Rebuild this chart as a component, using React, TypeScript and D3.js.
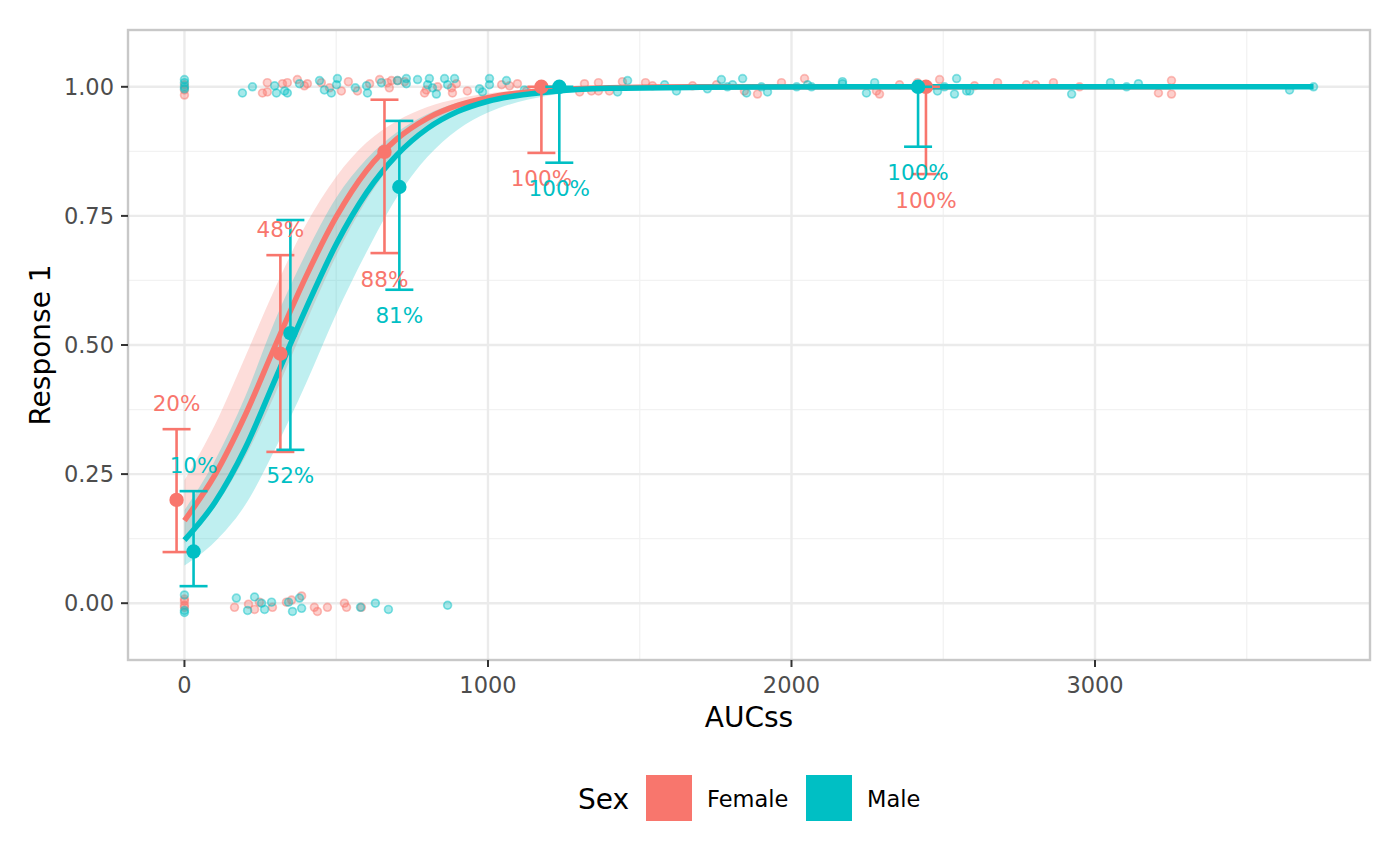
import React, { useEffect } from 'react';
import * as d3 from 'd3';

// axis ticks
const xTicks = [0, 1000, 2000, 3000];
const xMinor = [500, 1500, 2500, 3500];
const yTicks = [0, 0.25, 0.5, 0.75, 1];
const yMinor = [0.125, 0.375, 0.625, 0.875];
const yTickLabels = ['0.00', '0.25', '0.50', '0.75', '1.00'];

const sexes = ['Female', 'Male'];
const sexColors = ['#F8766D', '#00BFC4'];

// fitted logistic curve
const femaleFitAuc = [0, 100, 200, 300, 400, 500, 600, 700, 800, 900, 1000, 1200, 1400, 1700, 2200, 3250];
const femaleFit = [0.16, 0.248, 0.364, 0.5, 0.632, 0.748, 0.838, 0.899, 0.939, 0.964, 0.979, 0.993, 0.998, 1, 1, 1];
const femaleFitLo = [0.116, 0.186, 0.283, 0.407, 0.543, 0.673, 0.781, 0.861, 0.915, 0.949, 0.97, 0.99, 0.9966, 0.9993, 1, 1];
const femaleFitHi = [0.238, 0.345, 0.477, 0.612, 0.733, 0.826, 0.892, 0.934, 0.961, 0.977, 0.987, 0.996, 0.9985, 1, 1, 1];

const maleFitAuc = [0, 100, 200, 300, 400, 500, 600, 700, 800, 900, 1000, 1200, 1400, 1700, 2200, 3720];
const maleFit = [0.122, 0.195, 0.3, 0.435, 0.57, 0.695, 0.795, 0.868, 0.919, 0.952, 0.972, 0.99, 0.997, 0.999, 1, 1];
const maleFitLo = [0.073, 0.119, 0.19, 0.3, 0.425, 0.56, 0.68, 0.786, 0.864, 0.917, 0.95, 0.983, 0.994, 0.998, 0.9998, 1];
const maleFitHi = [0.18, 0.276, 0.4, 0.55, 0.677, 0.785, 0.86, 0.912, 0.947, 0.969, 0.982, 0.994, 0.998, 0.9997, 1, 1];

// binned observed response with 95% CI
const femaleBinAuc = [-26, 316, 659, 1176, 2443];
const femaleBinProb = [0.2, 0.483, 0.874, 1, 1];
const femaleBinLo = [0.099, 0.293, 0.678, 0.872, 0.831];
const femaleBinHi = [0.337, 0.674, 0.975, 1, 1];
const femaleBinLabels = ['20%', '48%', '88%', '100%', '100%'];
const femaleLabelAbove = [true, true, false, false, false];

const maleBinAuc = [30, 349, 708, 1235, 2417];
const maleBinProb = [0.1, 0.523, 0.806, 1, 1];
const maleBinLo = [0.033, 0.297, 0.607, 0.853, 0.884];
const maleBinHi = [0.217, 0.742, 0.934, 1, 1];
const maleBinLabels = ['10%', '52%', '81%', '100%', '100%'];
const maleLabelAbove = [true, false, false, false, false];

// individual observations (jittered vertically)
const femaleAuc = [
  0, 0, 0, 0, 0, 0, 0,
  257, 273, 273, 323, 339, 372, 395, 405, 451, 478, 517, 540, 570, 610, 643, 669, 675, 682, 702, 725,
  791, 797, 834, 880, 883, 896, 932, 1045, 1071, 1097, 1127, 1302, 1318, 1341, 1364, 1364, 1400, 1443,
  1519, 1542, 1674, 1753, 1845, 1888, 1967, 2043, 2280, 2290, 2356, 2415, 2488, 2603, 2679, 2774, 2804,
  2863, 2949, 3209, 3252, 3252,
  165, 211, 231, 247, 290, 336, 353, 386, 428, 438, 471, 527, 534, 583,
];
const femaleResp = [
  0.984, 0.994, 1.004, 0.004, -0.004, 0.008, -0.008,
  0.988, 1.008, 0.99, 1.006, 1.008, 1.014, 1.002, 1.006, 1.008, 0.998, 0.992, 1.01, 0.992, 1.006, 1.014, 1.008, 0.998, 1.012, 1.012, 1.01,
  0.988, 0.994, 1.0, 0.998, 0.988, 1.006, 0.992, 1.004, 1.002, 1.006, 0.992, 0.99, 1.006, 0.992, 1.008, 0.992, 0.992, 1.01,
  1.008, 1.002, 1.002, 1.004, 0.992, 0.986, 1.008, 1.016, 0.992, 0.986, 1.004, 1.008, 1.014, 1.002, 1.008, 1.004, 1.004,
  1.008, 1.0, 0.988, 1.012, 0.986,
  -0.008, -0.002, -0.012, 0.002, -0.008, 0.002, 0.006, 0.014, -0.008, -0.016, -0.008, 0, -0.008, -0.008,
];

const maleAuc = [
  0, 0, 0, 0, 0, 0, 0,
  191, 224, 297, 303, 330, 339, 379, 445, 461, 484, 501, 504, 563, 600, 603, 649, 702, 731, 731, 768,
  801, 807, 817, 830, 857, 867, 890, 972, 982, 1005, 1005, 1061, 1120, 1427, 1460, 1582, 1621, 1723,
  1769, 1789, 1806, 1839, 1852, 1901, 1921, 2017, 2053, 2066, 2168, 2168, 2247, 2274, 2481, 2504, 2537,
  2544, 2577, 2587, 2923, 3051, 3104, 3143, 3641, 3720,
  171, 208, 231, 254, 264, 287, 343, 356, 379, 386, 580, 629, 672, 867,
];
const maleResp = [
  1.014, 1.008, 1.0, 0.996, 0.016, -0.014, -0.018,
  0.988, 1.0, 1.002, 0.988, 0.992, 0.988, 1.006, 1.012, 0.994, 0.988, 1.004, 1.016, 0.998, 1.002, 0.988, 1.008, 1.012, 1.016, 1.006, 1.014,
  1.004, 1.016, 0.998, 0.986, 1.016, 1.004, 1.016, 0.996, 0.99, 1.016, 1.004, 1.012, 0.994, 0.99, 1.012, 1.004, 0.992, 0.996,
  1.014, 1.0, 1.004, 1.016, 0.988, 1.0, 0.99, 1.0, 1.004, 1.0, 1.01, 1.006, 0.988, 1.008, 0.992, 1.0, 0.986,
  1.016, 0.992, 0.992, 0.986, 1.008, 1.0, 1.006, 0.994, 1.0,
  0.01, -0.014, 0.012, 0, -0.012, 0.002, 0.002, -0.016, 0.01, -0.01, -0.008, 0, -0.012, -0.004,
];

const W = 1400;
const H = 865;
const panel = { left: 128, top: 30, right: 1370, bottom: 660 };
const font = 'DejaVu Sans, Verdana, sans-serif';

const x = d3.scaleLinear().domain([-186, 3906]).range([panel.left, panel.right]);
const y = d3.scaleLinear().domain([-0.11, 1.11]).range([panel.bottom, panel.top]);

const groups = [
  {
    fitAuc: femaleFitAuc, fit: femaleFit, lo: femaleFitLo, hi: femaleFitHi,
    binAuc: femaleBinAuc, binProb: femaleBinProb, binLo: femaleBinLo, binHi: femaleBinHi,
    labels: femaleBinLabels, above: femaleLabelAbove, auc: femaleAuc, resp: femaleResp,
  },
  {
    fitAuc: maleFitAuc, fit: maleFit, lo: maleFitLo, hi: maleFitHi,
    binAuc: maleBinAuc, binProb: maleBinProb, binLo: maleBinLo, binHi: maleBinHi,
    labels: maleBinLabels, above: maleLabelAbove, auc: maleAuc, resp: maleResp,
  },
];

export default function App() {
  useEffect(() => {
    document.body.style.margin = '0';
  }, []);

  const capHalf = 14;

  return (
    <svg width={W} height={H} style={{ display: 'block', background: '#fff' }}>
      {/* grid */}
      {xMinor.map(v => (
        <line key={'xm' + v} x1={x(v)} x2={x(v)} y1={panel.top} y2={panel.bottom} stroke="#F2F2F2" strokeWidth={1.3} />
      ))}
      {yMinor.map(v => (
        <line key={'ym' + v} x1={panel.left} x2={panel.right} y1={y(v)} y2={y(v)} stroke="#F2F2F2" strokeWidth={1.3} />
      ))}
      {xTicks.map(v => (
        <line key={'xg' + v} x1={x(v)} x2={x(v)} y1={panel.top} y2={panel.bottom} stroke="#EBEBEB" strokeWidth={2.4} />
      ))}
      {yTicks.map(v => (
        <line key={'yg' + v} x1={panel.left} x2={panel.right} y1={y(v)} y2={y(v)} stroke="#EBEBEB" strokeWidth={2.4} />
      ))}

      {/* confidence ribbons */}
      {groups.map((g, gi) => {
        const area = d3.area<number>()
          .x(i => x(g.fitAuc[i]))
          .y0(i => y(g.lo[i]))
          .y1(i => y(g.hi[i]))
          .curve(d3.curveMonotoneX);
        return <path key={'rb' + gi} d={area(d3.range(g.fitAuc.length)) || ''} fill={sexColors[gi]} fillOpacity={0.25} />;
      })}

      {/* raw observations */}
      {groups.map((g, gi) => g.auc.map((a, i) => (
        <circle key={'p' + gi + '-' + i} cx={x(a)} cy={y(g.resp[i])} r={3.9}
          fill={sexColors[gi]} fillOpacity={0.35} stroke={sexColors[gi]} strokeOpacity={0.45} strokeWidth={1.7} />
      )))}

      {/* fitted lines */}
      {groups.map((g, gi) => {
        const line = d3.line<number>()
          .x(i => x(g.fitAuc[i]))
          .y(i => y(g.fit[i]))
          .curve(d3.curveMonotoneX);
        return <path key={'ln' + gi} d={line(d3.range(g.fitAuc.length)) || ''} fill="none" stroke={sexColors[gi]} strokeWidth={5.5} />;
      })}

      {/* binned summaries */}
      {groups.map((g, gi) => g.binAuc.map((a, i) => {
        const cx = x(a);
        const c = sexColors[gi];
        const top = y(g.binHi[i]);
        const bot = y(g.binLo[i]);
        return (
          <g key={'b' + gi + '-' + i}>
            <line x1={cx} x2={cx} y1={top} y2={bot} stroke={c} strokeWidth={2.6} />
            <line x1={cx - capHalf} x2={cx + capHalf} y1={top} y2={top} stroke={c} strokeWidth={2.6} />
            <line x1={cx - capHalf} x2={cx + capHalf} y1={bot} y2={bot} stroke={c} strokeWidth={2.6} />
            <circle cx={cx} cy={y(g.binProb[i])} r={7.2} fill={c} />
          </g>
        );
      }))}

      {/* percentage labels */}
      {groups.map((g, gi) => g.binAuc.map((a, i) => (
        <text key={'t' + gi + '-' + i} x={x(a)} y={g.above[i] ? y(g.binHi[i]) - 26 : y(g.binLo[i]) + 26}
          textAnchor="middle" dominantBaseline="central" fontFamily={font} fontSize={21.5} fill={sexColors[gi]}>
          {g.labels[i]}
        </text>
      )))}

      {/* panel border */}
      <rect x={panel.left} y={panel.top} width={panel.right - panel.left} height={panel.bottom - panel.top}
        fill="none" stroke="#C8C8C8" strokeWidth={2.4} />

      {/* axes */}
      {xTicks.map(v => (
        <g key={'xt' + v}>
          <line x1={x(v)} x2={x(v)} y1={panel.bottom} y2={panel.bottom + 7} stroke="#333" strokeWidth={2} />
          <text x={x(v)} y={panel.bottom + 25} textAnchor="middle" dominantBaseline="central"
            fontFamily={font} fontSize={22.5} fill="#4D4D4D">{v}</text>
        </g>
      ))}
      {yTicks.map((v, i) => (
        <g key={'yt' + v}>
          <line x1={panel.left - 7} x2={panel.left} y1={y(v)} y2={y(v)} stroke="#333" strokeWidth={2} />
          <text x={panel.left - 14} y={y(v)} textAnchor="end" dominantBaseline="central"
            fontFamily={font} fontSize={22.5} fill="#4D4D4D">{yTickLabels[i]}</text>
        </g>
      ))}

      <text x={(panel.left + panel.right) / 2} y={717} textAnchor="middle" dominantBaseline="central"
        fontFamily={font} fontSize={28} fill="#000">AUCss</text>
      <text transform={`translate(40,${(panel.top + panel.bottom) / 2}) rotate(-90)`} textAnchor="middle"
        dominantBaseline="central" fontFamily={font} fontSize={28} fill="#000">Response 1</text>

      {/* legend */}
      <text x={578} y={799} dominantBaseline="central" fontFamily={font} fontSize={28} fill="#000">Sex</text>
      {sexes.map((s, i) => (
        <g key={s} transform={`translate(${646 + i * 160},775)`}>
          <rect width={46} height={46} fill={sexColors[i]} />
          <text x={61} y={24} dominantBaseline="central" fontFamily={font} fontSize={22.5} fill="#000">{s}</text>
        </g>
      ))}
    </svg>
  );
}
